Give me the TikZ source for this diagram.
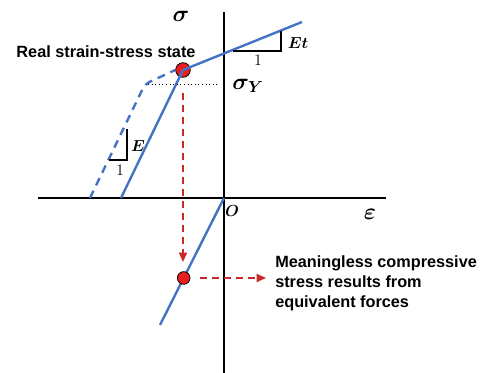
\documentclass[tikz,border=0pt]{standalone}
\usepackage[no-math]{fontspec}
\usepackage{bm}
\setmainfont{Liberation Sans}
\usetikzlibrary{arrows.meta}
\definecolor{cblue}{RGB}{68,114,196}
\definecolor{cred}{RGB}{230,30,30}
\definecolor{cdred}{RGB}{205,40,40}
\tikzset{
  axisline/.style={line width=1.8pt,black},
  curveline/.style={line width=1.8pt,cblue},
  curvedash/.style={line width=1.8pt,cblue,dash pattern=on 6pt off 4.5pt},
  reddash/.style={line width=1.3pt,cdred,dash pattern=on 5pt off 4pt,-{Triangle[length=7pt,width=6pt]}},
  reddot/.style={circle,fill=cred,draw=black,line width=0.6pt,inner sep=0pt},
  tri/.style={line width=0.9pt,black},
  lbl/.style={inner sep=0pt,font=\fontsize{12.2}{15}\selectfont\bfseries},
  mth/.style={inner sep=0pt},
}
\begin{document}
\begin{tikzpicture}[x=0.75pt,y=-0.75pt]
\useasboundingbox (0,0) rectangle (483,373);
% axes
\coordinate (vt) at (224,12);
\coordinate (vb) at (224,373);
\coordinate (hl) at (38,198);
\coordinate (hr) at (386,198);
\coordinate (O) at (224,198);
\draw[axisline] (vt) -- (vb);
\draw[axisline] (hl) -- (hr);
% curves
\coordinate (eb) at (121,198);
\coordinate (low) at (160,325);
\coordinate (ettop) at (302,22);
\coordinate (db) at (90,198);
\coordinate (dc) at (145,84);
\node[reddot,minimum size=11pt] (P) at (183,70) {};
\draw[curvedash,rounded corners=4pt] (db) -- (dc) -- (P.west);
\draw[curveline] (eb) -- (P.center);
\draw[curveline] (P.center) -- (ettop);
\draw[curveline] (O) -- (low);
\node[reddot,minimum size=9.5pt] (Q) at (183.7,278) {};
% dotted yield line
\coordinate (ya) at (148,84);
\coordinate (yb) at (218,84);
\draw[black,line width=0.7pt,dotted] (ya) -- (yb);
% red arrows
\coordinate (ra) at (183,93);
\coordinate (rb) at (183,262);
\draw[reddash] (ra) -- (rb);
\coordinate (rc) at (200,278);
\coordinate (rd) at (266,278);
\draw[reddash] (rc) -- (rd);
% slope triangles
\coordinate (t1a) at (233,51);
\coordinate (t1b) at (281,51);
\coordinate (t1c) at (281,31);
\draw[tri] (t1a) -- (t1b) -- (t1c);
\coordinate (t2a) at (127,129);
\coordinate (t2b) at (127,160);
\coordinate (t2c) at (109,160);
\draw[tri] (t2a) -- (t2b) -- (t2c);
% labels
\node[mth] (sig) at (181,16) {\fontsize{18}{18}\selectfont$\bm{\sigma}$};
\node[mth] (sigY) at (248,86) {\fontsize{18}{18}\selectfont$\bm{\sigma}_{\bm{Y}}$};
\node[mth] (Et) at (298,43) {\fontsize{12}{12}\selectfont$\bm{Et}$};
\node[mth] (one1) at (258,60) {\fontsize{12}{12}\selectfont$1$};
\node[mth] (E) at (138,146) {\fontsize{12}{12}\selectfont$\bm{E}$};
\node[mth] (one2) at (120,170) {\fontsize{12}{12}\selectfont$1$};
\node[mth] (Olab) at (232,211) {\fontsize{12}{12}\selectfont$\bm{O}$};
\node[mth] (eps) at (370,214) {\fontsize{19}{19}\selectfont$\bm{\varepsilon}$};
\node[lbl] (real) at (106,52) {Real strain-stress state};
\node[lbl,anchor=west,align=left] (mean) at (275,283) {Meaningless compressive\\stress results from\\equivalent forces};
\end{tikzpicture}
\end{document}
